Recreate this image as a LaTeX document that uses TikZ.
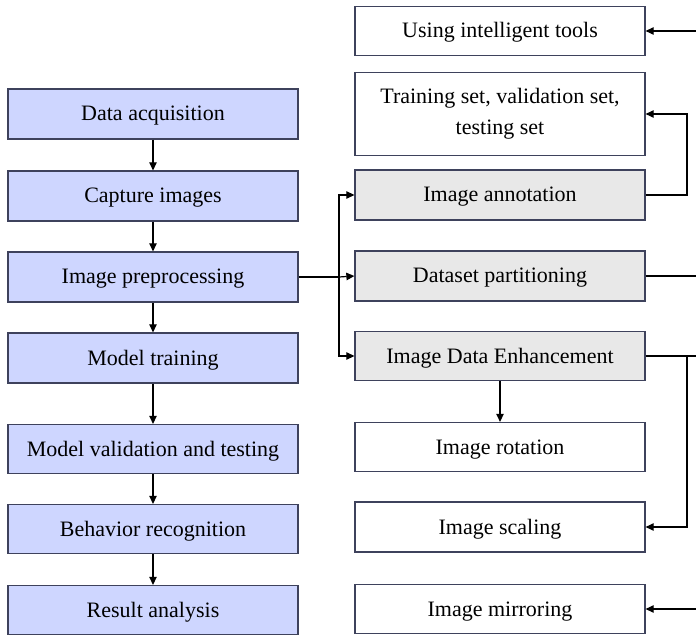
\documentclass[tikz,border=0pt]{standalone}
\usepackage{fontspec}
\setmainfont{Liberation Serif}
\usetikzlibrary{arrows.meta}
\definecolor{bord}{RGB}{62,66,92}
\definecolor{lblue}{RGB}{206,214,255}
\definecolor{lgray}{RGB}{232,232,232}
\begin{document}
\begin{tikzpicture}[x=1pt,y=-1pt,
  box/.style={draw=bord,line width=1.3pt,minimum width=290pt,align=center,inner sep=0pt,font=\fontsize{22}{31}\selectfont},
  one/.style={text height=16pt,text depth=2pt},
  bluebox/.style={box,one,fill=lblue,minimum height=50pt},
  graybox/.style={box,one,fill=lgray,minimum height=50pt},
  whitebox/.style={box,one,fill=white,minimum height=50pt},
  conn/.style={line width=1.2pt,black},
  arr/.style={conn,-{Triangle[length=8pt,width=7.5pt]}}]
\useasboundingbox (0,0) rectangle (696,636);
% left column
\node[bluebox] (a1) at (153,114) {Data acquisition};
\node[bluebox] (a2) at (153,196) {Capture images};
\node[bluebox] (a3) at (153,277) {Image preprocessing};
\node[bluebox] (a4) at (153,358) {Model training};
\node[bluebox,minimum height=49pt] (a5) at (153,449) {Model validation and testing};
\node[bluebox,minimum height=49pt] (a6) at (153,529) {Behavior recognition};
\node[bluebox,minimum height=49pt] (a7) at (153,610) {Result analysis};
% right column
\node[whitebox,minimum height=49pt] (b1) at (500,31) {Using intelligent tools};
\node[box,fill=white,minimum height=83pt] (b2) at (500,114) {Training set, validation set,\\testing set};
\node[graybox] (b3) at (500,195) {Image annotation};
\node[graybox] (b4) at (500,276) {Dataset partitioning};
\node[graybox,minimum height=49pt] (b5) at (500,356) {Image Data Enhancement};
\node[whitebox,minimum height=49pt] (b6) at (500,447) {Image rotation};
\node[whitebox] (b7) at (500,527) {Image scaling};
\node[whitebox,minimum height=49pt] (b8) at (500,609) {Image mirroring};
% left arrows
\draw[arr] (a1) -- (a2);
\draw[arr] (a2) -- (a3);
\draw[arr] (a3) -- (a4);
\draw[arr] (a4) -- (a5);
\draw[arr] (a5) -- (a6);
\draw[arr] (a6) -- (a7);
% branch
\coordinate (br) at (339,277);
\draw[conn] (a3.east) -- (br);
\draw[arr] (br) -- (b4.west);
\draw[arr] (br) |- (b3.west);
\draw[arr] (br) |- (b5.west);
\draw[arr] (b5) -- (b6);
% right side
\coordinate (e1) at (696,31);
\coordinate (e4) at (696,276);
\coordinate (e5) at (696,356);
\coordinate (e8) at (696,609);
\coordinate (f3) at (687,195);
\coordinate (f5) at (687,356);
\draw[arr] (e1) -- (b1.east);
\draw[arr] (b3.east) -- (f3) |- (b2.east);
\draw[conn] (b4.east) -- (e4);
\draw[conn] (b5.east) -- (e5);
\draw[arr] (f5) |- (b7.east);
\draw[arr] (e8) -- (b8.east);
\end{tikzpicture}
\end{document}
